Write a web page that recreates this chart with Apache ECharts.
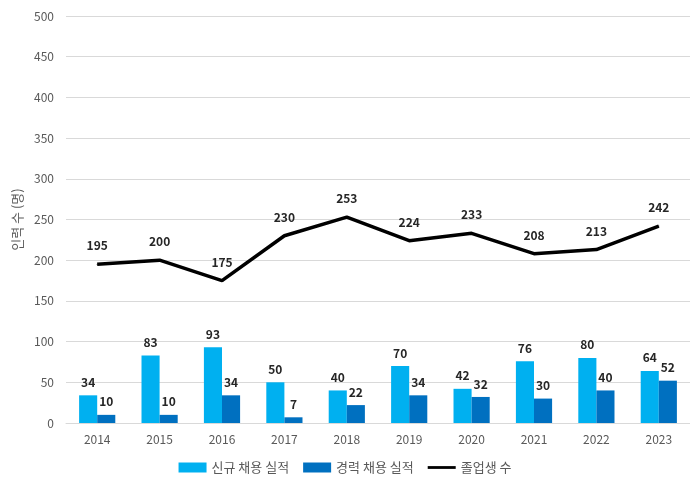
<!DOCTYPE html>
<html>
<head>
<meta charset="utf-8">
<script src="https://cdn.jsdelivr.net/npm/echarts@6/dist/echarts.min.js"></script>
<style>
  html, body { margin: 0; padding: 0; background: #fff; }
  #chart { width: 690px; height: 483px; }
</style>
</head>
<body>
<div id="chart"></div>
<script>
// Yearly hiring results versus number of graduates
const years = ['2014', '2015', '2016', '2017', '2018', '2019', '2020', '2021', '2022', '2023'];
const newHires = [34, 83, 93, 50, 40, 70, 42, 76, 80, 64];
const careerHires = [10, 10, 34, 7, 22, 34, 32, 30, 40, 52];
const graduates = [195, 200, 175, 230, 253, 224, 233, 208, 213, 242];
const yTicks = [0, 50, 100, 150, 200, 250, 300, 350, 400, 450, 500];

const FONT = '"Noto Sans CJK KR", "Open Sans", sans-serif';

const chart = echarts.init(document.getElementById('chart'), null, { renderer: 'canvas' });

const valueLabel = {
  show: true,
  position: 'top',
  distance: 7,
  color: '#262626',
  fontWeight: 'bold',
  fontSize: 12,
  fontFamily: FONT
};

chart.setOption({
  animation: false,
  textStyle: { fontFamily: FONT },
  grid: { left: 66, right: -11, top: 16, bottom: 60, containLabel: false },
  legend: {
    bottom: 4,
    left: 'center',
    itemWidth: 28,
    itemHeight: 10,
    itemGap: 14,
    textStyle: { color: '#595959', fontSize: 13, fontFamily: FONT },
    data: [
      { name: '신규 채용 실적', icon: 'rect' },
      { name: '경력 채용 실적', icon: 'rect' },
      { name: '졸업생 수', icon: 'path://M0,0 L40,0 L40,4 L0,4 Z' }
    ]
  },
  xAxis: {
    type: 'category',
    data: years,
    axisLine: { lineStyle: { color: '#d9d9d9' } },
    axisTick: { show: false },
    axisLabel: { color: '#595959', fontSize: 12, margin: 10, fontFamily: FONT }
  },
  yAxis: {
    type: 'value',
    min: yTicks[0],
    max: yTicks[yTicks.length - 1],
    interval: yTicks[1] - yTicks[0],
    name: '인력 수 (명)',
    nameLocation: 'middle',
    nameGap: 38,
    nameTextStyle: { color: '#595959', fontSize: 13, fontFamily: FONT },
    axisLine: { show: false },
    axisTick: { show: false },
    axisLabel: { color: '#595959', fontSize: 12, margin: 12, fontFamily: FONT },
    splitLine: { lineStyle: { color: '#d9d9d9' } }
  },
  series: [
    {
      name: '신규 채용 실적',
      type: 'bar',
      data: newHires,
      barGap: '0%',
      barCategoryGap: '42%',
      itemStyle: { color: '#00b0f0' },
      label: valueLabel
    },
    {
      name: '경력 채용 실적',
      type: 'bar',
      data: careerHires,
      itemStyle: { color: '#0070c0' },
      label: valueLabel
    },
    {
      name: '졸업생 수',
      type: 'line',
      data: graduates,
      symbol: 'circle',
      symbolSize: 1,
      showSymbol: true,
      lineStyle: { color: '#000', width: 3.5 },
      itemStyle: { color: '#000' },
      label: Object.assign({}, valueLabel, { distance: 12 })
    }
  ]
});
</script>
</body>
</html>
